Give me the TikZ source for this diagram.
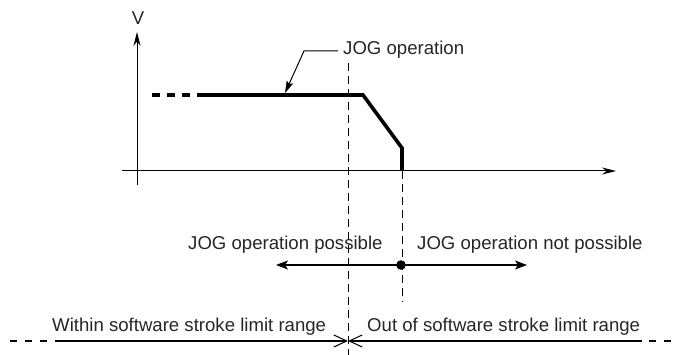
\documentclass[tikz,border=0pt]{standalone}
\usepackage{fontspec}
\setmainfont{Liberation Sans}
\usetikzlibrary{arrows.meta}
\begin{document}
\begin{tikzpicture}[x=1pt,y=-1pt,
  thin line/.style={line width=1pt,black},
  axis/.style={thin line,-{Stealth[length=14pt,width=7pt]}},
  guide/.style={line width=0.9pt,dash pattern=on 8pt off 5pt},
  profile/.style={line width=3.6pt,line join=miter},
  label/.style={font=\fontsize{18.6}{21}\selectfont,inner sep=0pt,text=black!85},
  rangearrow/.style={line width=1.5pt,-{Stealth[length=12pt,width=9pt,inset=3pt]}},
  limitarrow/.style={line width=1.5pt,-{Straight Barb[length=13pt,width=12pt,line width=1pt]}},
  ext/.style={line width=1.5pt,dash pattern=on 7pt off 8pt}]
\useasboundingbox (0,0) rectangle (675,355);
% axes
\coordinate (vb) at (137,185);
\coordinate (vt) at (137,32);
\coordinate (hb) at (122,171);
\coordinate (ht) at (616,171);
\draw[axis] (vb) -- (vt);
\draw[axis] (hb) -- (ht);
\node[label,anchor=base] (V) at (138,25) {V};
% profile
\coordinate (p0) at (152,95);
\coordinate (p1) at (197,95);
\coordinate (p2) at (363,95);
\coordinate (p3) at (402,148);
\coordinate (p4) at (402,171);
\draw[profile,dash pattern=on 8pt off 7pt] (p0) -- (p1);
\draw[profile] (p1) -- (p2) -- (p3) -- (p4);
% guides
\coordinate (g1t) at (348,63);
\coordinate (g1b) at (348,355);
\coordinate (g2t) at (402,171);
\coordinate (g2b) at (402,302);
\draw[guide] (g1t) -- (g1b);
\draw[guide] (g2t) -- (g2b);
% JOG operation label
\node[label,anchor=base west] (jog) at (343,55) {JOG operation};
\coordinate (l0) at (338,51);
\coordinate (l1) at (304,51);
\coordinate (l2) at (285,93);
\draw[thin line,-{Stealth[length=12pt,width=7pt,inset=2pt]}] (l0) -- (l1) -- (l2);
% possible / not possible
\node[label,anchor=base west] (pos) at (188,250) {JOG operation possible};
\node[label,anchor=base west] (npos) at (417,250) {JOG operation not possible};
\coordinate (dot) at (401,265);
\coordinate (al) at (276,265);
\coordinate (ar) at (527,265);
\draw[rangearrow] (dot) -- (al);
\draw[rangearrow] (dot) -- (ar);
\fill (dot) circle (4.8pt);
% stroke limit range
\node[label,anchor=base west] (within) at (52,332) {Within software stroke limit range};
\node[label,anchor=base west] (out) at (367,332) {Out of software stroke limit range};
\coordinate (bl0) at (10,341);
\coordinate (bl1) at (55,341);
\coordinate (bm) at (348,341);
\coordinate (br1) at (642,341);
\coordinate (br0) at (675,341);
\draw[ext] (bl0) -- (bl1);
\draw[ext] ([xshift=7pt]br1) -- (br0);
\draw[limitarrow] (bl1) -- (bm);
\draw[limitarrow] (br1) -- (bm);
\end{tikzpicture}
\end{document}
